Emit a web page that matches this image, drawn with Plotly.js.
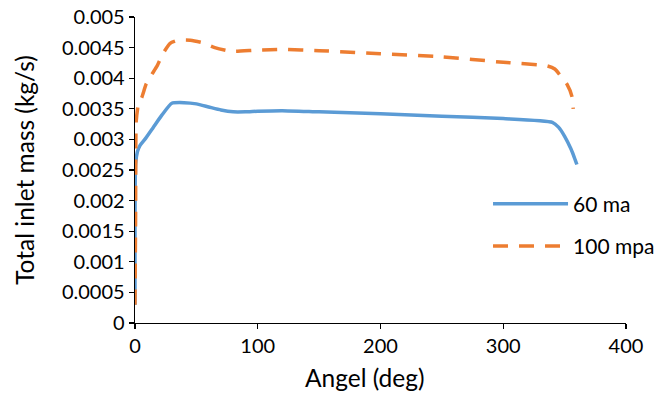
<!DOCTYPE html>
<html>
<head>
<meta charset="utf-8">
<script src="https://cdn.plot.ly/plotly-3.0.1.min.js"></script>
<style>html,body{margin:0;padding:0;background:#fff;}#chart{width:657px;height:394px;}</style>
</head>
<body>
<div id="chart"></div>
<script>
const seriesNames = ["60 ma", "100 mpa"];
const angle60 = [0, 0, 0.5, 2, 4, 8, 15, 22, 30, 40, 50, 60, 70, 80, 90, 100, 120, 150, 200, 250, 300, 340, 345, 350, 355, 358, 360];
const mass60 = [0.0003, 0.0015, 0.0026, 0.0028, 0.0029, 0.0030, 0.0032, 0.0034, 0.00359, 0.0036, 0.00358, 0.00353, 0.00348, 0.00345, 0.00345, 0.00346, 0.00347, 0.00345, 0.00342, 0.00338, 0.00334, 0.00328, 0.0032, 0.00305, 0.00285, 0.0027, 0.00259];
const angle100 = [0, 0.5, 1, 3, 5.4, 9, 13.6, 18, 23, 28.6, 35, 45, 55, 65, 75, 82, 100, 120, 150, 200, 250, 300, 336, 342, 347, 352, 356, 357];
const mass100 = [0.0003, 0.0018, 0.0033, 0.0036, 0.00368, 0.0039, 0.00406, 0.0042, 0.00441, 0.00457, 0.00462, 0.00462, 0.00458, 0.0045, 0.00445, 0.00444, 0.00446, 0.00447, 0.00445, 0.0044, 0.00435, 0.00426, 0.0042, 0.00415, 0.00403, 0.0039, 0.0037, 0.0035];
const yTicks = [0, 0.0005, 0.001, 0.0015, 0.002, 0.0025, 0.003, 0.0035, 0.004, 0.0045, 0.005];
const yTickText = ["0", "0.0005", "0.001", "0.0015", "0.002", "0.0025", "0.003", "0.0035", "0.004", "0.0045", "0.005"];
const xTicks = [0, 100, 200, 300, 400];
const xTitle = "Angel (deg)";
const yTitle = "Total inlet mass (kg/s)";

const font = "Lato, 'Open Sans', sans-serif";
const traces = [
  {x: angle60, y: mass60, name: seriesNames[0], mode: "lines", legendgroup: "a",
   line: {color: "#5B9BD5", width: 3.5, shape: "spline", smoothing: 0.5}},
  {x: angle100, y: mass100, name: seriesNames[1], mode: "lines", legendgroup: "b",
   line: {color: "#ED7D31", width: 3.5, dash: "15px,11px", shape: "spline", smoothing: 0.5}}
];
const layout = {
  width: 657, height: 394,
  margin: {l: 135, r: 31, t: 17, b: 70.5, autoexpand: false},
  paper_bgcolor: "#fff", plot_bgcolor: "#fff",
  font: {family: font, size: 20, color: "#000"},
  showlegend: true,
  legend: {x: 0.719, y: 0.32, xanchor: "left", yanchor: "middle", bgcolor: "rgba(0,0,0,0)",
           itemwidth: 75, traceorder: "grouped", tracegroupgap: 12, font: {family: font, size: 21}},
  xaxis: {range: [0, 400], tickvals: xTicks, ticks: "outside", ticklen: 5, tickwidth: 1.3,
          tickcolor: "#000", showline: true, linecolor: "#000", linewidth: 1.3,
          showgrid: false, zeroline: false, tickfont: {size: 20}},
  yaxis: {range: [0, 0.005], tickvals: yTicks, ticktext: yTickText, ticks: "outside", ticklen: 5,
          tickwidth: 1.3, tickcolor: "#000", showline: true, linecolor: "#000", linewidth: 1.3,
          showgrid: false, zeroline: false, tickfont: {size: 20},
          title: {text: yTitle, font: {size: 24.5}, standoff: 20}},
  annotations: [
    {text: xTitle, xref: "paper", yref: "paper", x: 0.4684, y: -0.178, xanchor: "center",
     yanchor: "middle", showarrow: false, font: {family: font, size: 24.5, color: "#000"}}
  ]
};
Plotly.newPlot("chart", traces, layout, {displayModeBar: false, staticPlot: true});
</script>
</body>
</html>
